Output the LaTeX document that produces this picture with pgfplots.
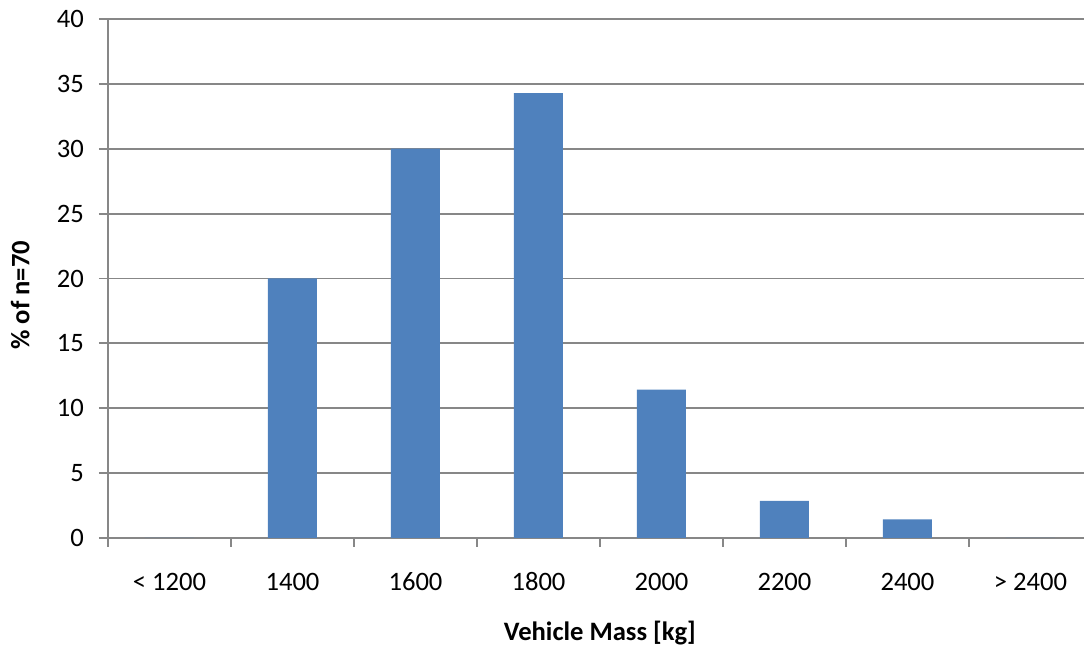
\documentclass[border=0pt]{standalone}
\usepackage{fontspec}
\setmainfont{Carlito}
\usepackage{pgfplots}
\pgfplotsset{compat=1.18}
\definecolor{barblue}{HTML}{4F81BD}
\definecolor{axisgray}{HTML}{878787}
\begin{document}
\begin{tikzpicture}
\path[use as bounding box] (0,0) rectangle (542pt,324pt);
\begin{axis}[
  at={(54pt,55pt)}, anchor=south west,
  scale only axis, width=488pt, height=259.5pt,
  xmin=-0.5, xmax=7.435, ymin=0, ymax=40,
  ybar, bar width=24.5pt,
  axis x line*=bottom, axis y line*=left,
  axis line style={axisgray, line width=0.9pt},
  xtick={0,...,7},
  xticklabels={{< 1200},1400,1600,1800,2000,2200,2400,{> 2400}},
  major x tick style={draw=none},
  minor xtick={-0.5,0.5,1.5,2.5,3.5,4.5,5.5,6.5},
  minor tick length=4.5pt,
  minor x tick style={axisgray, line width=0.9pt},
  ytick={0,5,...,40},
  major tick length=4.5pt,
  tick align=outside,
  major y tick style={axisgray, line width=0.9pt},
  ymajorgrids, grid style={axisgray, line width=0.9pt},
  /pgf/number format/assume math mode=true,
  tick label style={font=\fontsize{13.3}{15}\selectfont},
  xticklabel style={yshift=-9.5pt, text height=8.5pt, text depth=0pt},
  yticklabel style={xshift=-4pt},
  xlabel={Vehicle Mass [kg]},
  ylabel={\% of n=70},
  label style={font=\bfseries\fontsize{13.3}{15}\selectfont},
  xlabel style={at={(axis description cs:0.504,-0.183)}, anchor=center},
  ylabel style={at={(axis description cs:-0.09,0.468)}, anchor=center, rotate=0},
  clip=false,
]
\addplot[fill=barblue, draw=none] coordinates {
  (0,0) (1,20) (2,30) (3,34.2857) (4,11.4286) (5,2.8571) (6,1.4286) (7,0)
};
\end{axis}
\end{tikzpicture}
\end{document}
